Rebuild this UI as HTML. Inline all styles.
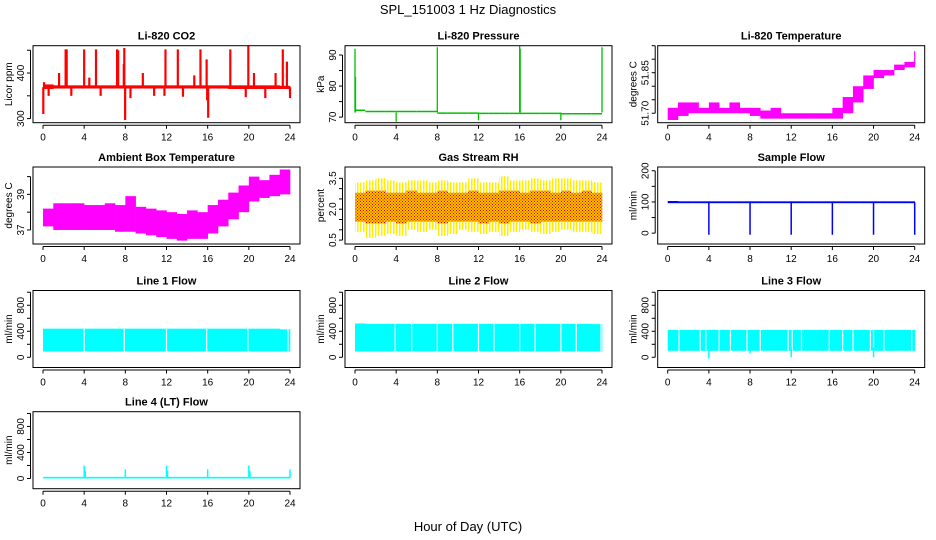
<!DOCTYPE html>
<html><head><meta charset="utf-8"><style>
body{margin:0;background:#fff}
svg{display:block;font-family:"Liberation Sans",sans-serif}
</style></head><body>
<svg id="chart" width="936" height="540" viewBox="0 0 936 540">
<defs>
<pattern id="rhOuter" width="3" height="4" patternUnits="userSpaceOnUse"><rect width="1.5" height="4" fill="#ffee00"/></pattern>
<pattern id="rhCore" width="3" height="3" patternUnits="userSpaceOnUse"><rect width="3" height="3" fill="#f7c000"/><rect width="1" height="1" fill="#e80000"/><rect x="1.5" y="1.5" width="1" height="1" fill="#e80000"/></pattern>
</defs>
<text x="468" y="14" text-anchor="middle" font-size="13">SPL_151003  1 Hz Diagnostics</text>
<text x="468" y="531" text-anchor="middle" font-size="13">Hour of Day (UTC)</text>
</svg>
<script>
// ---- data ----
const xTicks=[0,4,8,12,16,20,24];
const co2Lo=[365,366,366,366,366,366,366,366,366,366,366,366,366,366,366,366,366,366,365,365,365,365,365,365];
const co2Hi=[375,373,373,373,373,373,373,373,373,373,373,373,373,373,373,373,373,373,373,373,373,373,373,372];
const co2SpikeT=[0.03,0.1,2.2,2.3,4.0,5.15,7.2,7.3,7.9,11.9,13.1,15.3,18.2,19.95,23.3,23.7,1.56,4.5,7.85,9.7,14.7,15.9,20.5,22.6,7.98,16.05,15.95,0.55,2.75,5.6,8.5,10.8,11.8,13.6,19.7,21.6,24];
const co2SpikeV=[310,380,452,452,452,452,452,450,455,452,452,452,452,460,452,425,400,390,420,400,395,430,400,400,297,302,340,350,350,350,345,350,350,348,347,345,345];
const presBase=[72.2,71.8,71.8,71.8,71.8,71.8,71.8,71.8,71.3,71.3,71.3,71.3,71.2,71.2,71.2,71.2,71.2,71.2,71.2,71.2,71.1,71.1,71.1,71.1];
const presSpikeT=[0,0.05,8,16,16.05,24,4,12,20];
const presSpikeV=[92,83,92.5,93,92,92.5,68.5,69,69];
const ltLo=[51.675,51.69,51.70,51.70,51.70,51.70,51.70,51.70,51.69,51.68,51.68,51.68,51.68,51.68,51.68,51.68,51.68,51.70,51.74,51.79,51.83,51.84,51.86,51.87];
const ltHi=[51.72,51.74,51.74,51.72,51.74,51.72,51.74,51.72,51.72,51.71,51.72,51.70,51.70,51.70,51.70,51.70,51.72,51.76,51.80,51.84,51.86,51.86,51.88,51.89];
const ambLo=[37.2,37.0,37.0,37.0,37.0,37.0,37.0,36.9,36.9,36.8,36.7,36.6,36.5,36.4,36.5,36.5,36.8,37.2,37.6,38.0,38.6,38.8,38.9,39.0];
const ambHi=[38.2,38.5,38.5,38.5,38.4,38.4,38.5,38.4,38.9,38.3,38.2,38.1,38.0,37.9,38.1,38.0,38.4,38.7,39.1,39.5,40.0,39.8,40.1,40.4];
const rhLo=[0.9,0.6,0.7,0.8,0.7,1.0,0.9,1.0,0.7,0.8,1.0,0.9,0.8,0.9,0.7,0.9,1.0,0.9,0.8,0.9,1.0,0.9,0.9,0.8];
const rhHi=[3.3,3.4,3.5,3.4,3.3,3.4,3.4,3.3,3.4,3.3,3.3,3.5,3.3,3.3,3.6,3.4,3.4,3.5,3.4,3.5,3.5,3.4,3.4,3.3];
const rhCoreLo=[1.4,1.3,1.3,1.4,1.3,1.4,1.4,1.4,1.3,1.4,1.4,1.4,1.3,1.4,1.3,1.4,1.4,1.3,1.4,1.4,1.4,1.4,1.4,1.4];
const rhCoreHi=[2.8,2.9,2.9,2.8,2.8,2.9,2.8,2.8,2.9,2.8,2.8,2.9,2.8,2.8,2.9,2.9,2.8,2.9,2.9,2.8,2.9,2.8,2.9,2.8];
const sfLo=[96,96,96,96,96,96,96,96,96,96,96,96,96,96,96,96,96,96,96,96,96,96,96,96];
const sfHi=[103,102,102,102,102,102,102,102,102,102,102,102,102,102,102,102,102,102,102,102,102,102,102,102];
const sfDipT=[4,8,12,16,20,24];
const sfDipV=[-5,-5,-5,-5,-5,-5];
const l1Lo=[90,90,90,90,90,90,90,90,90,90,90,90,90,90,90,90,90,90,90,90,90,90,90,90];
const l1Hi=[440,440,440,440,440,440,440,440,440,440,440,440,440,440,440,440,440,440,440,440,440,440,440,430];
const l1Gaps=[4.0,7.9,12.0,15.9,19.9,23.8];
const l2Lo=[90,90,90,90,90,90,90,90,90,90,90,90,90,90,90,90,90,90,90,90,90,90,90,90];
const l2Hi=[520,515,515,515,515,515,515,515,515,515,515,515,515,515,515,515,515,515,515,515,515,515,515,510];
const l2Gaps=[3.9,5.5,8.0,9.5,12.0,13.5,16.0,17.5,20.0,21.5,23.9];
const l3Lo=[100,100,100,100,100,100,100,100,100,100,100,100,100,100,100,100,100,100,100,100,100,100,100,100];
const l3Hi=[420,420,420,420,420,420,420,420,420,420,420,420,420,420,420,420,420,420,420,420,420,420,420,420];
const l3Gaps=[1.1,3.15,3.7,5.0,6.1,7.7,9.0,11.7,12.1,13.0,15.7,17.0,18.0,19.7,20.0,21.0,23.7];
const l3DipT=[4.0,8.0,12.0,20.0];
const l3DipV=[-20,60,0,0];
const l4Lo=[0,0,0,0,0,0,0,0,0,0,0,0,0,0,0,0,0,0,0,0,0,0,0,0];
const l4Hi=[25,25,25,25,25,25,25,25,25,25,25,25,25,25,25,25,25,25,25,25,25,25,25,25];
const l4SpikeT=[4,4.1,8,12,12.1,16,20,20.1,24];
const l4SpikeV=[200,120,140,200,120,140,200,120,140];

// ---- drawing ----
const NS="http://www.w3.org/2000/svg";
const svg=document.getElementById('chart');
const cols=[33,345,657.7], rows=[45.7,167,290.5,411.7], BW=267, BH=77;
function el(tag,parent){const e=document.createElementNS(NS,tag);parent.appendChild(e);return e;}
function attrs(e,o){for(const k in o)e.setAttribute(k,o[k]);return e;}

function panel(c,r,ymin,ymax,yt,yl,title,ylab,name){
  const x0=cols[c], y0=rows[r];
  const g=el('g',svg);
  
  
  const sx=h=>x0+10+h*(BW-20)/24;
  const sy=v=>y0+BH-(v-ymin)/(ymax-ymin)*BH;
  const clip=el('clipPath',g); clip.id='clip-'+name;
  attrs(el('rect',clip),{x:x0,y:y0,width:BW,height:BH});
  const plot=el('g',g); plot.setAttribute('clip-path','url(#clip-'+name+')');
  
  
  const box=attrs(el('rect',g),{x:x0,y:y0,width:BW,height:BH,fill:'none',stroke:'#000','stroke-width':1});
  
  
  const t=el('text',g); t.textContent=title;
  attrs(t,{x:x0+BW/2,y:y0-6,'text-anchor':'middle','font-size':11,'font-weight':'bold'});
  
  
  // x axis
  const xa=el('g',g);
  
  
  attrs(el('line',xa),{x1:sx(0),x2:sx(24),y1:y0+BH+2.5,y2:y0+BH+2.5,stroke:'#000'});
  xTicks.forEach(v=>{
    attrs(el('line',xa),{x1:sx(v),x2:sx(v),y1:y0+BH+2.5,y2:y0+BH+6,stroke:'#000'});
    const tl=el('text',xa); tl.textContent=v;
    attrs(tl,{x:sx(v),y:y0+BH+18,'text-anchor':'middle','font-size':10});
    
    
  });
  // y axis
  const ya=el('g',g);
  
  
  attrs(el('line',ya),{x1:x0-2.5,x2:x0-2.5,y1:sy(yt[0]),y2:sy(yt[yt.length-1]),stroke:'#000'});
  yt.forEach((v,i)=>{
    attrs(el('line',ya),{x1:x0-6,x2:x0-2.5,y1:sy(v),y2:sy(v),stroke:'#000'});
    if(yl[i]!==''){
      const tl=el('text',ya); tl.textContent=yl[i];
      attrs(tl,{x:0,y:0,'text-anchor':'middle','font-size':10,transform:`translate(${x0-9},${sy(v)}) rotate(-90)`});
      
      
    }
  });
  const yt2=el('text',g); yt2.textContent=ylab;
  attrs(yt2,{x:0,y:0,'text-anchor':'middle','font-size':10,transform:`translate(${x0-21},${y0+BH/2}) rotate(-90)`});
  
  
  return {sx,sy,plot};
}
function band(p,lo,hi,fill){
  lo.forEach((l,i)=>{
    const r=el('rect',p.plot);
    attrs(r,{x:p.sx(i),y:p.sy(hi[i]),width:p.sx(i+1)-p.sx(i)+0.3,height:Math.max(1,p.sy(l)-p.sy(hi[i])),fill:fill});
    
    
  });
}
function spikes(p,ts,vs,from,color,w){
  ts.forEach((t,i)=>{
    const ln=el('line',p.plot);
    attrs(ln,{x1:p.sx(t),x2:p.sx(t),y1:p.sy(from),y2:p.sy(vs[i]),stroke:color,'stroke-width':w});
    
    
  });
}
function gaps(p,ts,lo,hi){
  ts.forEach(t=>{
    const ln=el('line',p.plot);
    attrs(ln,{x1:p.sx(t),x2:p.sx(t),y1:p.sy(hi-5),y2:p.sy(lo+5),stroke:'#fff','stroke-width':1.2});
    
    
  });
}

// CO2
let p=panel(0,0,291,460,[300,350,400,450],['300','','400',''],'Li-820 CO2','Licor ppm','co2');
band(p,co2Lo,co2Hi,'#ff0000');
spikes(p,co2SpikeT,co2SpikeV,369,'#ff0000',2.2);
// Pressure
p=panel(1,0,68.2,93,[70,75,80,85,90],['70','','80','','90'],'Li-820 Pressure','kPa','pressure');
presBase.forEach((v,i)=>{const ln=el('line',p.plot);attrs(ln,{x1:p.sx(i),x2:p.sx(i+1),y1:p.sy(v),y2:p.sy(v),stroke:'#00c000','stroke-width':1.5});

});
spikes(p,presSpikeT,presSpikeV,71.5,'#00c000',1.3);
// Li-820 temperature
p=panel(2,0,51.665,51.95,[51.70,51.75,51.80,51.85,51.90,51.95],['51.70','','','51.85','',''],'Li-820 Temperature','degrees C','licor-temp');
band(p,ltLo,ltHi,'#ff00ff');
spikes(p,[24],[51.93],51.88,'#ff00ff',1.2);
// Ambient
p=panel(0,1,36.21,40.54,[37,38,39,40],['37','','39',''],'Ambient Box Temperature','degrees C','ambient-temp');
band(p,ambLo,ambHi,'#ff00ff');
// RH
p=panel(1,1,0.31,4.05,[0.5,1,1.5,2,2.5,3,3.5],['0.5','','','2.0','','','3.5'],'Gas Stream RH','percent','rh');
band(p,rhLo,rhHi,'url(#rhOuter)');
band(p,rhCoreLo,rhCoreHi,'url(#rhCore)');
// Sample flow
p=panel(2,1,-34.8,212,[0,50,100,150,200],['0','','100','','200'],'Sample Flow','ml/min','sample-flow');
band(p,sfLo,sfHi,'#0000ff');
spikes(p,sfDipT,sfDipV,99,'#0000ff',1.5);
// Line flows
const lt=[0,200,400,600,800,1000], ll=['0','','400','','800',''];
p=panel(0,2,-157,1027,lt,ll,'Line 1 Flow','ml/min','line1-flow');
band(p,l1Lo,l1Hi,'#00ffff'); gaps(p,l1Gaps,90,440);
p=panel(1,2,-157,1027,lt,ll,'Line 2 Flow','ml/min','line2-flow');
band(p,l2Lo,l2Hi,'#00ffff'); gaps(p,l2Gaps,90,515);
p=panel(2,2,-157,1027,lt,ll,'Line 3 Flow','ml/min','line3-flow');
band(p,l3Lo,l3Hi,'#00ffff'); gaps(p,l3Gaps,100,420);
spikes(p,l3DipT,l3DipV,150,'#00ffff',1.5);
p=panel(0,3,-157,1027,lt,ll,'Line 4 (LT) Flow','ml/min','line4-flow');
band(p,l4Lo,l4Hi,'#00ffff');
spikes(p,l4SpikeT,l4SpikeV,10,'#00ffff',1.5);
</script>
</body></html>
